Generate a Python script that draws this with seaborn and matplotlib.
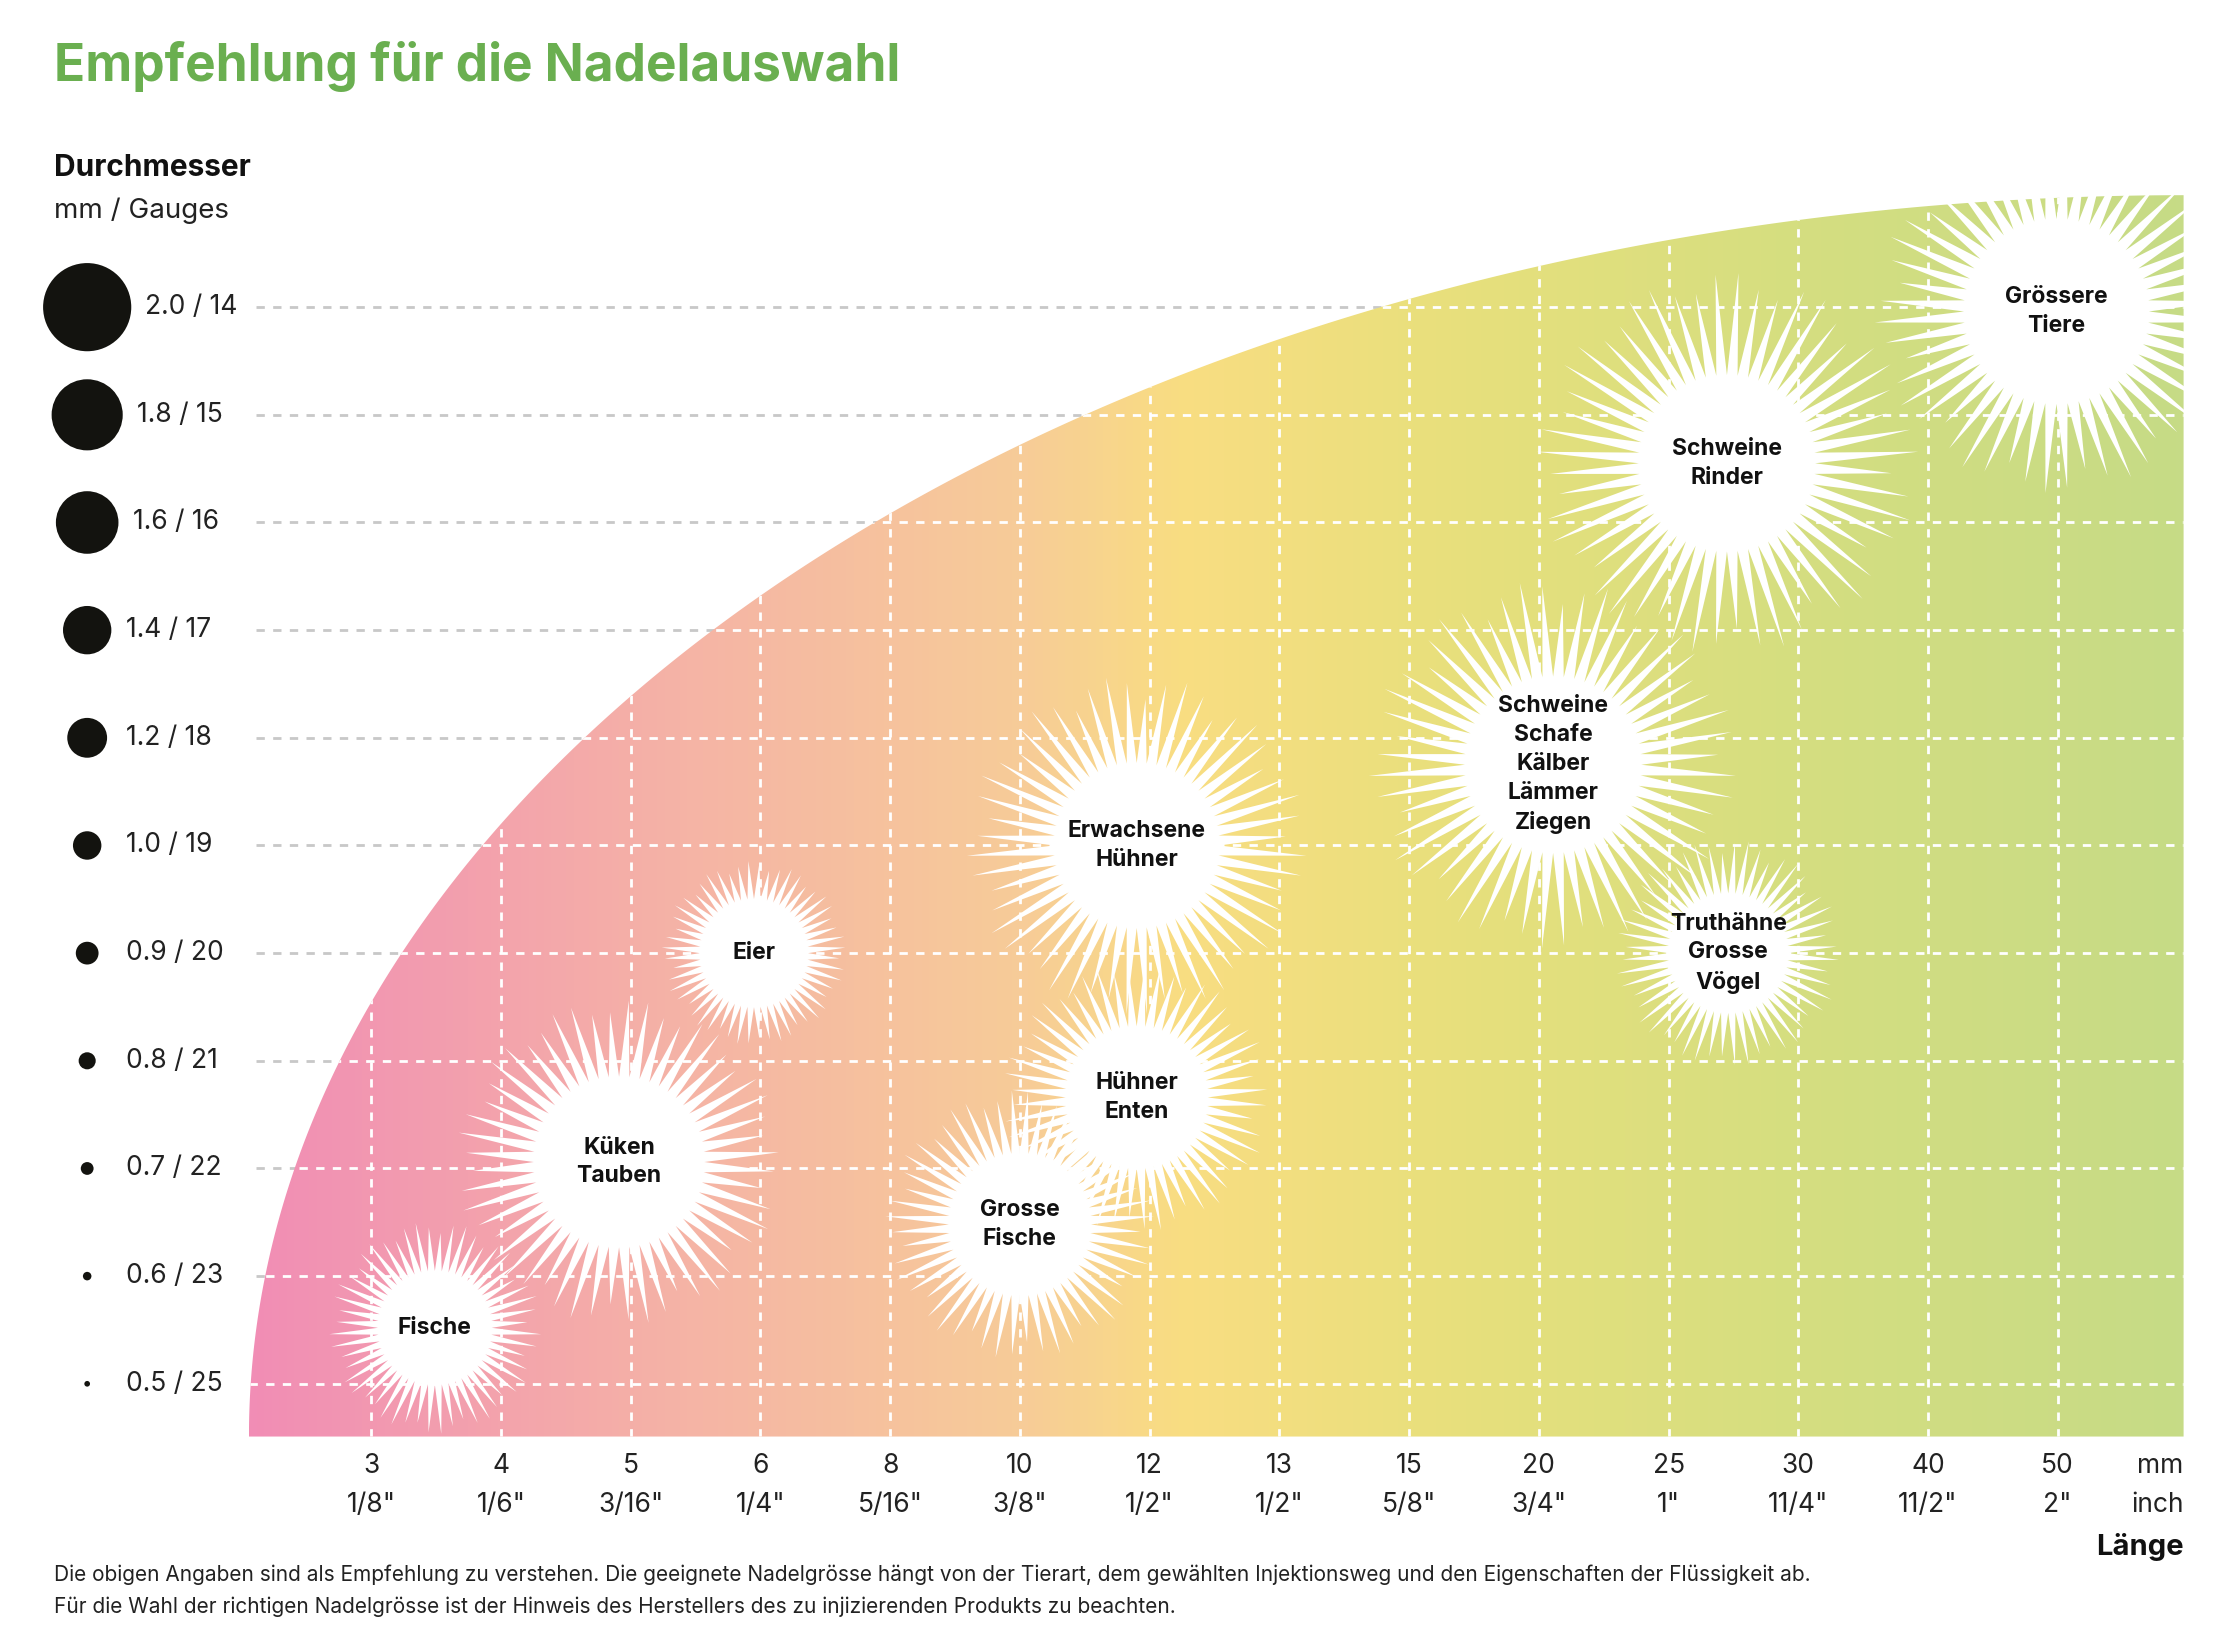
import numpy as np
import matplotlib
matplotlib.use("Agg")
import matplotlib.pyplot as plt
import seaborn as sns
import pandas as pd
from matplotlib.patches import Polygon
from matplotlib.colors import LinearSegmentedColormap

plt.rcParams["font.family"] = ["Inter", "DejaVu Sans"]

# ---- data ----
length_mm = ["3", "4", "5", "6", "8", "10", "12", "13", "15", "20", "25", "30", "40", "50"]
length_inch = ['1/8"', '1/6"', '3/16"', '1/4"', '5/16"', '3/8"', '1/2"', '1/2"', '5/8"', '3/4"', '1"', '11/4"', '11/2"', '2"']
diam_labels = ["0.5 / 25", "0.6 / 23", "0.7 / 22", "0.8 / 21", "0.9 / 20", "1.0 / 19",
               "1.2 / 18", "1.4 / 17", "1.6 / 16", "1.8 / 15", "2.0 / 14"]
diam_mm = [0.5, 0.6, 0.7, 0.8, 0.9, 1.0, 1.2, 1.4, 1.6, 1.8, 2.0]
animals = ["Fische", "Küken\nTauben", "Eier", "Erwachsene\nHühner", "Hühner\nEnten", "Grosse\nFische",
           "Schweine\nSchafe\nKälber\nLämmer\nZiegen", "Truthähne\nGrosse\nVögel", "Schweine\nRinder",
           "Grössere\nTiere"]
animal_len_pos = [0.49, 1.91, 2.95, 5.9, 5.9, 5.0, 9.11, 10.46, 10.45, 12.99]
animal_diam_pos = [0.52, 2.06, 4.0, 5.0, 2.66, 1.48, 5.75, 4.0, 8.55, 9.96]
burst_core = [40, 60, 38, 58, 50, 50, 62, 42, 62, 65]
burst_outer = [75, 115, 65, 120, 95, 95, 130, 80, 135, 128]

# ---- layout helpers (display px of a 1560x1144 design) ----
PX_X, PX_Y = 91.2, 75.7
fig = plt.figure(figsize=(22.19, 16.27), dpi=100)
ax = fig.add_axes([0, 0, 1, 1])

X0, X1, Y0, Y1 = -0.943, 13.97, -0.49, 11.04
t = np.linspace(np.pi, np.pi / 2, 300)
ex = X1 + (X1 - X0) * np.cos(t)
ey = Y0 + (Y1 - Y0) * np.sin(t)
verts = np.column_stack([np.r_[ex, X1], np.r_[ey, Y0]])
clip = Polygon(verts, closed=True, facecolor="none", edgecolor="none")
ax.add_patch(clip)

cmap = LinearSegmentedColormap.from_list("g", [(0, "#F18DB5"), (0.22, "#F5B3A6"), (0.4, "#F7CC98"),
                                               (0.48, "#F9DD82"), (0.62, "#E8E07C"), (0.8, "#D5DE80"),
                                               (1, "#C6DB86")])
grad = np.linspace(0, 1, 512)[None, :]
im = ax.imshow(grad, extent=[X0, X1, Y0, Y1], aspect="auto", cmap=cmap, zorder=1)
im.set_clip_path(clip)

for i in range(len(diam_mm)):
    ax.plot([-0.89, X1], [i, i], color="#C8C8C8", lw=2, ls=(0, (3, 3)), zorder=0.5)
    l, = ax.plot([X0, X1], [i, i], color="white", lw=2, ls=(0, (3, 3)), zorder=2)
    l.set_clip_path(clip)
for j in range(len(length_mm)):
    l, = ax.plot([j, j], [Y0, Y1], color="white", lw=2, ls=(0, (3, 3)), zorder=2)
    l.set_clip_path(clip)

rect = Polygon([[X0, Y0], [X1, Y0], [X1, Y1], [X0, Y1]], closed=True, facecolor="none", edgecolor="none")
ax.add_patch(rect)
for k in range(len(animals)):
    cx, cy, rc, ro = animal_len_pos[k], animal_diam_pos[k], burst_core[k], burst_outer[k]
    n = 52
    pts = []
    for s in range(n):
        a0 = 2 * np.pi * s / n
        a1 = a0 + np.pi / n
        var = 0.72 + 0.28 * abs(np.sin(s * 2.37 + k))
        pts.append((cx + rc * np.cos(a0) / PX_X, cy + rc * np.sin(a0) / PX_Y))
        r = rc + (ro - rc) * var
        pts.append((cx + r * np.cos(a1) / PX_X, cy + r * np.sin(a1) / PX_Y))
    p = Polygon(pts, closed=True, facecolor="white", edgecolor="none", zorder=3)
    ax.add_patch(p)
    p.set_clip_path(rect)
    ax.text(cx, cy, animals[k], ha="center", va="center", fontsize=16.5, fontweight="bold",
            color="#111111", linespacing=1.4, zorder=4)

# diameter legend circles (sizes in design px)
sizes = [4, 6, 9, 12, 16, 20, 28, 34, 44, 50, 62]
df = pd.DataFrame({"x": [-2.19] * len(diam_mm), "y": np.arange(len(diam_mm)), "d": diam_mm})
sns.scatterplot(data=df, x="x", y="y", s=[(d * 1.024) ** 2 for d in sizes], color="#13130F",
                edgecolor="none", legend=False, ax=ax, zorder=5)
ax.set_xlim(-2.862, 14.243)
ax.set_ylim(-2.259, 12.853)
ax.axis("off")
for i, lab in enumerate(diam_labels):
    xoff = (max(sizes[i], 34) / 2 + 10) / PX_X
    ax.text(-2.19 + xoff, i, lab, ha="left", va="center", fontsize=19, color="#222222")

for j in range(len(length_mm)):
    ax.text(j, (973 - 1031) / PX_Y, length_mm[j], ha="center", va="center", fontsize=19, color="#222222")
    ax.text(j, (973 - 1058) / PX_Y, length_inch[j], ha="center", va="center", fontsize=19, color="#222222")
ax.text(X1, (973 - 1031) / PX_Y, "mm", ha="right", va="center", fontsize=19, color="#222222")
ax.text(X1, (973 - 1058) / PX_Y, "inch", ha="right", va="center", fontsize=19, color="#222222")
ax.text(X1, (973 - 1088) / PX_Y, "Länge", ha="right", va="center", fontsize=21, fontweight="bold", color="#111111")

fig.text(38 / 1560, 1 - 47 / 1144, "Empfehlung für die Nadelauswahl", ha="left", va="center",
         fontsize=37, fontweight="bold", color="#6AAF50")
fig.text(38 / 1560, 1 - 118 / 1144, "Durchmesser", ha="left", va="center", fontsize=21.5, fontweight="bold", color="#111111")
fig.text(38 / 1560, 1 - 148 / 1144, "mm / Gauges", ha="left", va="center", fontsize=20, color="#222222")
fig.text(38 / 1560, 1 - 1107 / 1144,
         "Die obigen Angaben sind als Empfehlung zu verstehen. Die geeignete Nadelgrösse hängt von der Tierart, dem gewählten Injektionsweg und den Eigenschaften der Flüssigkeit ab.",
         ha="left", va="center", fontsize=15, color="#222222")
fig.text(38 / 1560, 1 - 1130 / 1144,
         "Für die Wahl der richtigen Nadelgrösse ist der Hinweis des Herstellers des zu injizierenden Produkts zu beachten.",
         ha="left", va="center", fontsize=15, color="#222222")

fig.savefig("out.png", dpi=100)
